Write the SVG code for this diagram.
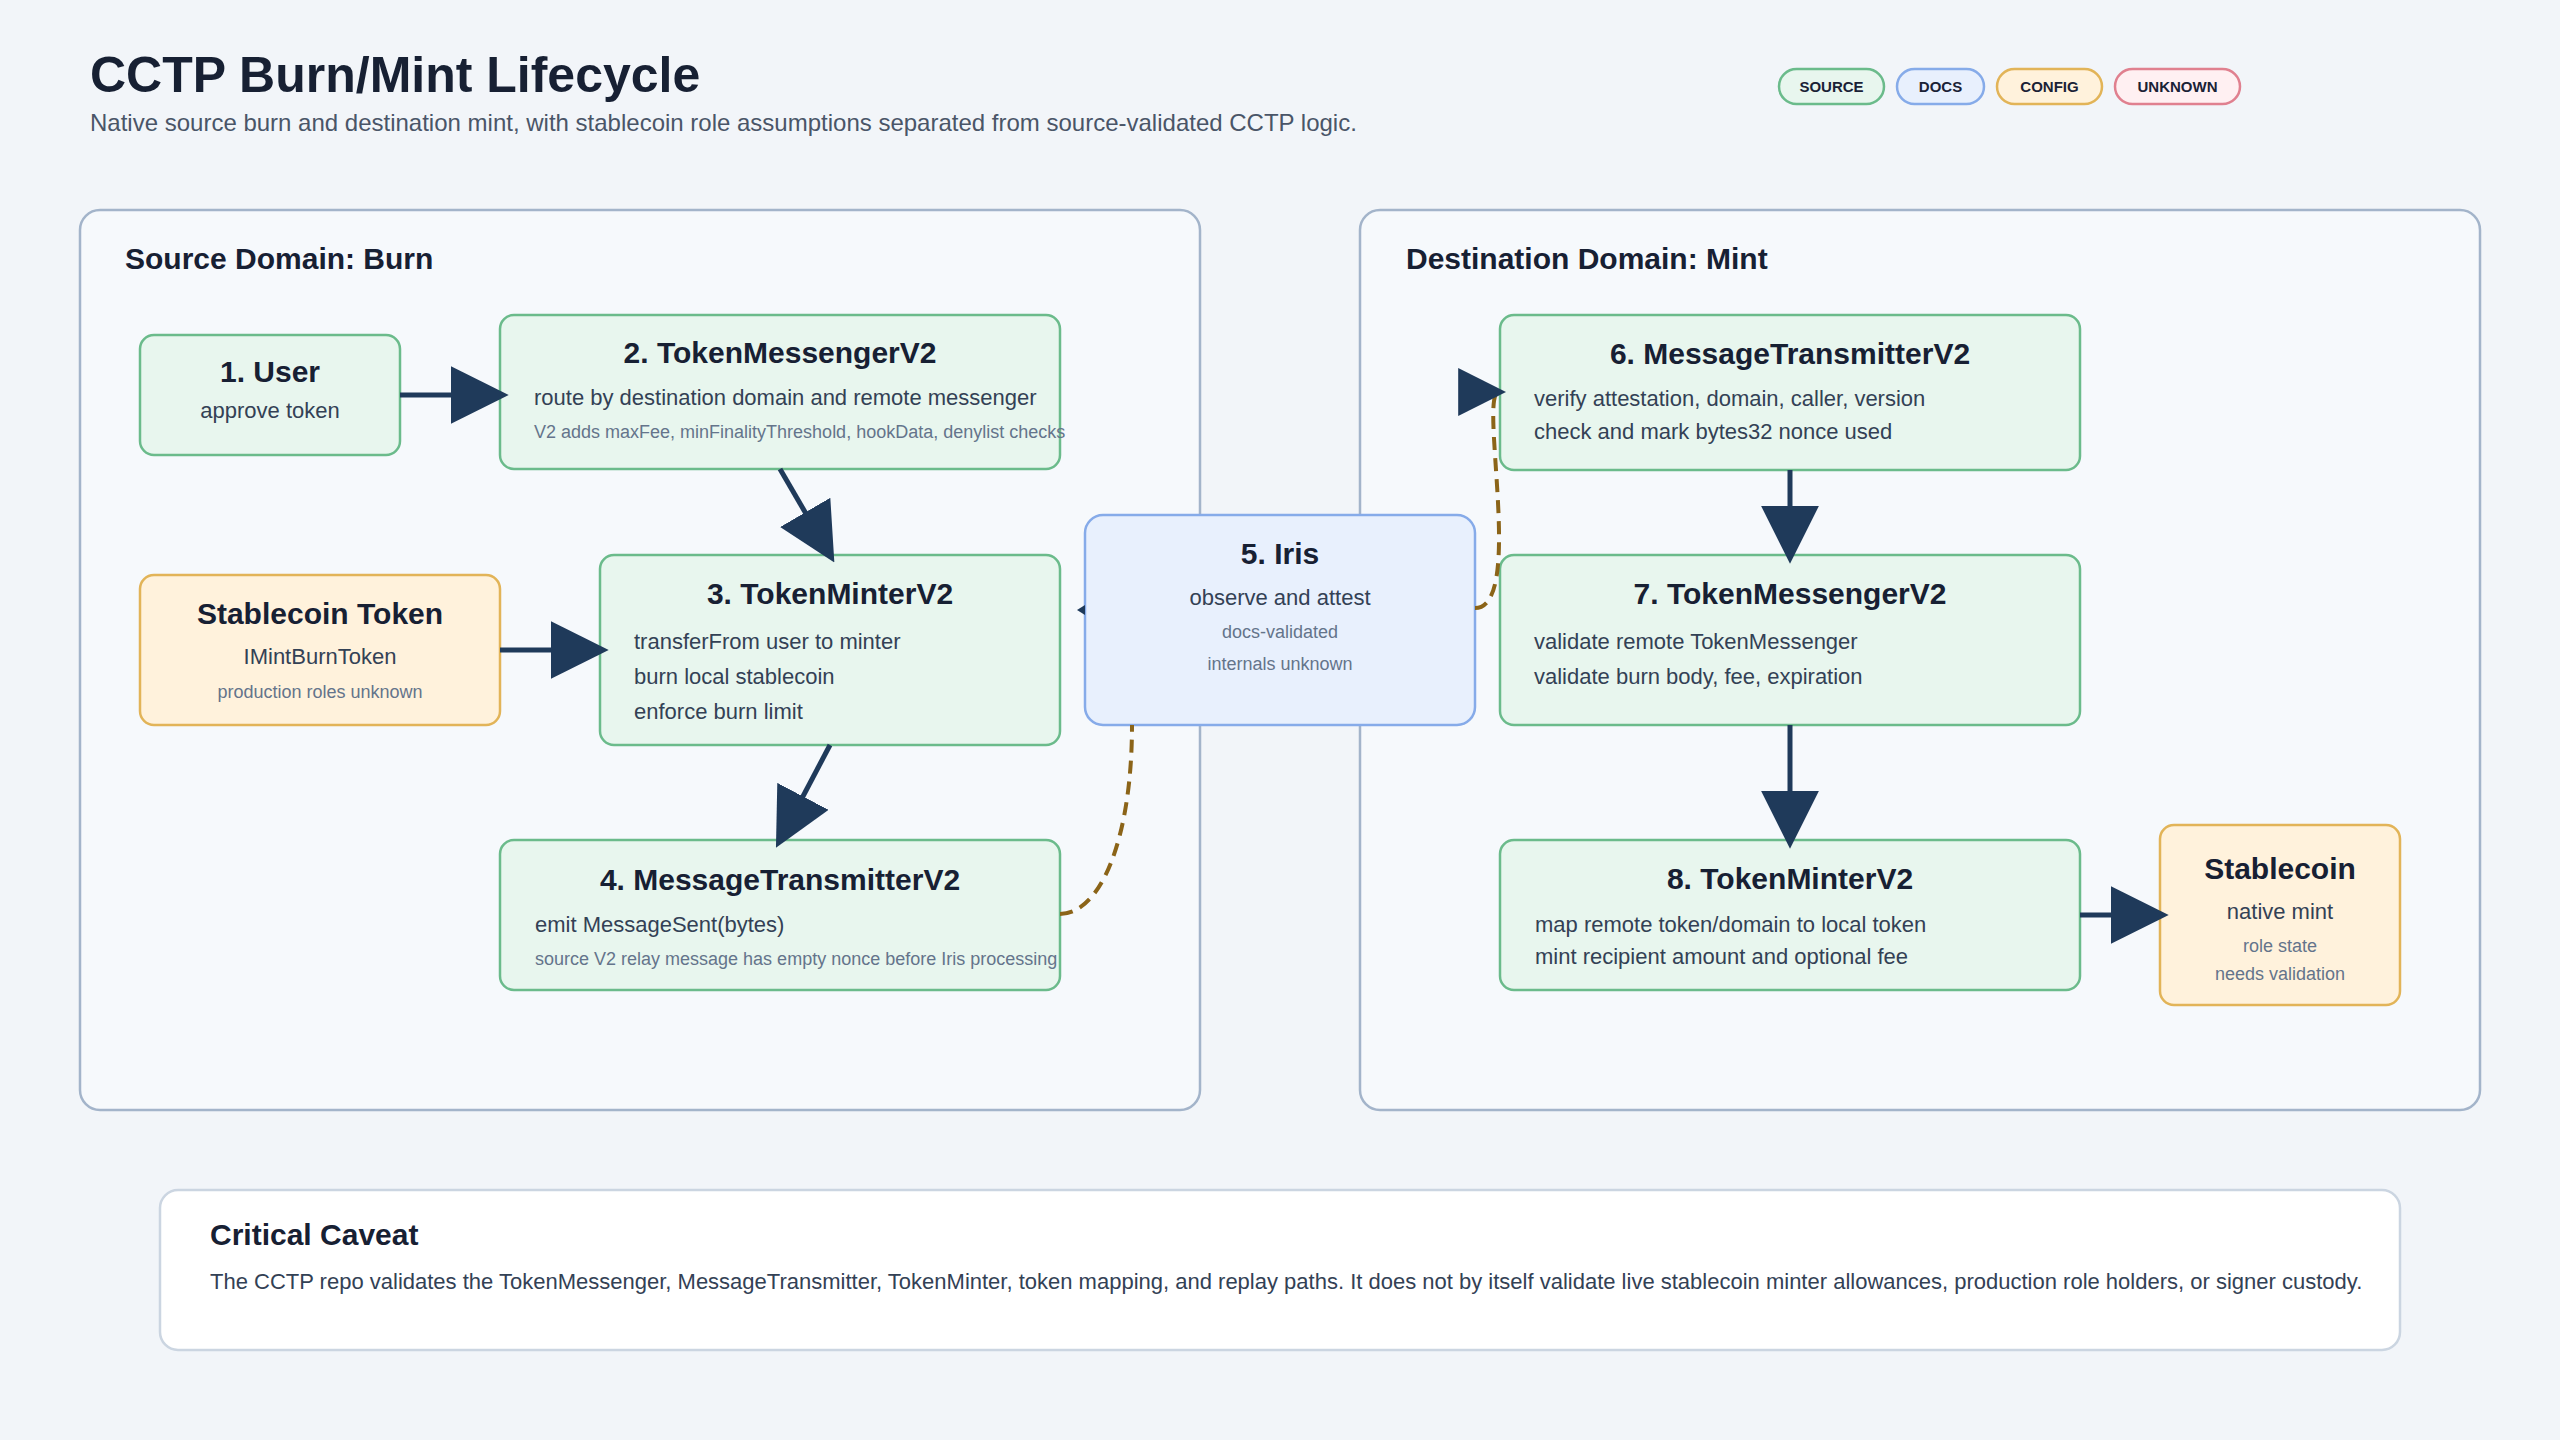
<svg xmlns="http://www.w3.org/2000/svg" width="2560" height="1440" viewBox="0 0 2560 1440">
<style>
text{font-family:"Liberation Sans",Arial,Helvetica,sans-serif}
.h1{font-size:50px;font-weight:700;fill:#172033}
.sub{font-size:24px;fill:#4a5568}
.pill{font-size:15px;font-weight:700;fill:#1a2236}
.ptitle{font-size:30px;font-weight:700;fill:#172033}
.nt{font-size:30px;font-weight:700;fill:#172033;text-anchor:middle}
.body{font-size:22px;fill:#334155}
.bc{font-size:22px;fill:#334155;text-anchor:middle}
.small{font-size:18px;fill:#64748b}
.sc{font-size:18px;fill:#64748b;text-anchor:middle}
.panel{fill:#f6f9fc;stroke:#a3b4ca;stroke-width:2.5}
.src{fill:#e8f6ee;stroke:#6bbb8b;stroke-width:2.5}
.docs{fill:#e8f0fd;stroke:#86abe9;stroke-width:2.5}
.cfg{fill:#fff2dc;stroke:#e2b458;stroke-width:2.5}
.unk{fill:#fff0f2;stroke:#e0808f;stroke-width:2.5}
.solid{fill:none;stroke:#1f3a5a;stroke-width:5;marker-end:url(#ah)}
.dash{fill:none;stroke:#8b6418;stroke-width:4;stroke-dasharray:13 8}
</style>
<defs>
<marker id="ah" viewBox="0 0 10 10" refX="8.5" refY="5" markerUnits="userSpaceOnUse" markerWidth="58" markerHeight="58" orient="auto">
<path d="M0,0 L10,5 L0,10 z" fill="#1f3a5a"/>
</marker>
<marker id="ahs" viewBox="0 0 10 10" refX="8.5" refY="5" markerUnits="userSpaceOnUse" markerWidth="48" markerHeight="48" orient="auto">
<path d="M0,0 L10,5 L0,10 z" fill="#1f3a5a"/>
</marker>
</defs>
<rect width="2560" height="1440" fill="#f2f5f9"/>

<g id="header">
<text class="h1" x="90" y="92">CCTP Burn/Mint Lifecycle</text>
<text class="sub" x="90" y="131">Native source burn and destination mint, with stablecoin role assumptions separated from source-validated CCTP logic.</text>
</g>

<g id="legend">
<rect class="src" x="1779" y="69" width="105" height="35" rx="17.5"/>
<text class="pill" x="1831.5" y="92" text-anchor="middle">SOURCE</text>
<rect class="docs" x="1897" y="69" width="87" height="35" rx="17.5"/>
<text class="pill" x="1940.5" y="92" text-anchor="middle">DOCS</text>
<rect class="cfg" x="1997" y="69" width="105" height="35" rx="17.5"/>
<text class="pill" x="2049.5" y="92" text-anchor="middle">CONFIG</text>
<rect class="unk" x="2115" y="69" width="125" height="35" rx="17.5"/>
<text class="pill" x="2177.5" y="92" text-anchor="middle">UNKNOWN</text>
</g>

<g id="panel-source">
<rect class="panel" x="80" y="210" width="1120" height="900" rx="20"/>
<text class="ptitle" x="125" y="269">Source Domain: Burn</text>
</g>
<g id="panel-destination">
<rect class="panel" x="1360" y="210" width="1120" height="900" rx="20"/>
<text class="ptitle" x="1406" y="269">Destination Domain: Mint</text>
</g>

<g id="node-user">
<rect class="src" x="140" y="335" width="260" height="120" rx="14"/>
<text class="nt" x="270" y="382">1. User</text>
<text class="bc" x="270" y="418">approve token</text>
</g>

<g id="node-tokenmessenger-src">
<rect class="src" x="500" y="315" width="560" height="154" rx="14"/>
<text class="nt" x="780" y="363">2. TokenMessengerV2</text>
<text class="body" x="534" y="405">route by destination domain and remote messenger</text>
<text class="small" x="534" y="438">V2 adds maxFee, minFinalityThreshold, hookData, denylist checks</text>
</g>

<g id="node-stablecoin-token">
<rect class="cfg" x="140" y="575" width="360" height="150" rx="14"/>
<text class="nt" x="320" y="624">Stablecoin Token</text>
<text class="bc" x="320" y="664">IMintBurnToken</text>
<text class="sc" x="320" y="698">production roles unknown</text>
</g>

<g id="node-tokenminter-src">
<rect class="src" x="600" y="555" width="460" height="190" rx="14"/>
<text class="nt" x="830" y="604">3. TokenMinterV2</text>
<text class="body" x="634" y="649">transferFrom user to minter</text>
<text class="body" x="634" y="684">burn local stablecoin</text>
<text class="body" x="634" y="719">enforce burn limit</text>
</g>

<g id="node-messagetransmitter-src">
<rect class="src" x="500" y="840" width="560" height="150" rx="14"/>
<text class="nt" x="780" y="890">4. MessageTransmitterV2</text>
<text class="body" x="535" y="932">emit MessageSent(bytes)</text>
<text class="small" x="535" y="965">source V2 relay message has empty nonce before Iris processing</text>
</g>

<g id="node-iris">
<rect class="docs" x="1085" y="515" width="390" height="210" rx="18"/>
<text class="nt" x="1280" y="564">5. Iris</text>
<text class="bc" x="1280" y="605">observe and attest</text>
<text class="sc" x="1280" y="638">docs-validated</text>
<text class="sc" x="1280" y="670">internals unknown</text>
</g>

<g id="node-messagetransmitter-dst">
<rect class="src" x="1500" y="315" width="580" height="155" rx="14"/>
<text class="nt" x="1790" y="364">6. MessageTransmitterV2</text>
<text class="body" x="1534" y="406">verify attestation, domain, caller, version</text>
<text class="body" x="1534" y="439">check and mark bytes32 nonce used</text>
</g>

<g id="node-tokenmessenger-dst">
<rect class="src" x="1500" y="555" width="580" height="170" rx="14"/>
<text class="nt" x="1790" y="604">7. TokenMessengerV2</text>
<text class="body" x="1534" y="649">validate remote TokenMessenger</text>
<text class="body" x="1534" y="684">validate burn body, fee, expiration</text>
</g>

<g id="node-tokenminter-dst">
<rect class="src" x="1500" y="840" width="580" height="150" rx="14"/>
<text class="nt" x="1790" y="889">8. TokenMinterV2</text>
<text class="body" x="1535" y="932">map remote token/domain to local token</text>
<text class="body" x="1535" y="964">mint recipient amount and optional fee</text>
</g>

<g id="node-stablecoin">
<rect class="cfg" x="2160" y="825" width="240" height="180" rx="14"/>
<text class="nt" x="2280" y="879">Stablecoin</text>
<text class="bc" x="2280" y="919">native mint</text>
<text class="sc" x="2280" y="952">role state</text>
<text class="sc" x="2280" y="980">needs validation</text>
</g>

<g id="connectors">
<path class="solid" d="M400,395 L500,395"/>
<path class="solid" d="M780,469 L830,555"/>
<path class="solid" d="M500,650 L600,650"/>
<path class="solid" d="M830,745 L780,840"/>
<path class="dash" d="M1060,914 C1100,914 1132,840 1132,725"/>
<path d="M1085,605 L1077,610 L1085,615 z" fill="#1f3a5a"/>
<path class="dash" d="M1475,608 C1525,608 1478,392 1499,392" style="marker-end:url(#ahs)"/>
<path class="solid" d="M1790,470 L1790,555"/>
<path class="solid" d="M1790,725 L1790,840"/>
<path class="solid" d="M2080,915 L2160,915"/>
</g>

<g id="caveat">
<rect x="160" y="1190" width="2240" height="160" rx="18" fill="#ffffff" stroke="#cbd5e1" stroke-width="2.5"/>
<text class="ptitle" x="210" y="1245">Critical Caveat</text>
<text class="body" x="210" y="1289">The CCTP repo validates the TokenMessenger, MessageTransmitter, TokenMinter, token mapping, and replay paths. It does not by itself validate live stablecoin minter allowances, production role holders, or signer custody.</text>
</g>
</svg>
